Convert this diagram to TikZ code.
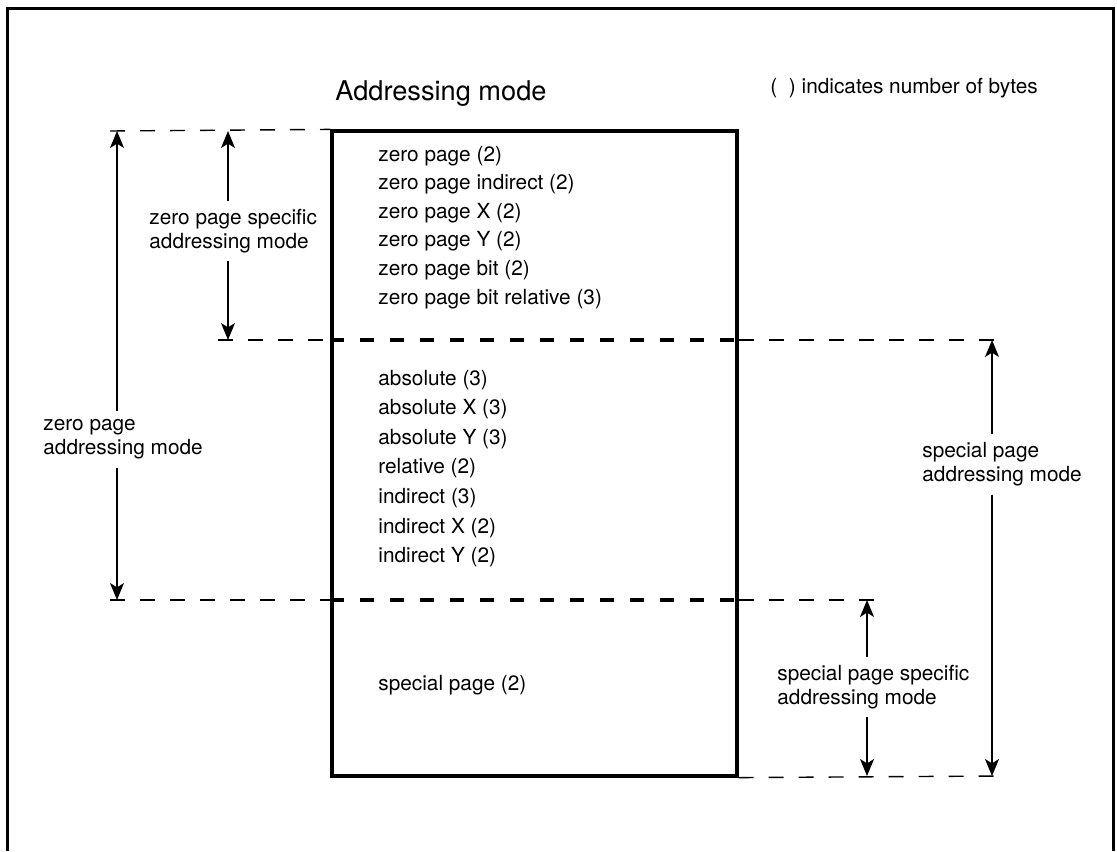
\documentclass[tikz,border=0pt]{standalone}
\usepackage{fontspec}
\setmainfont{TeX Gyre Heros}
\usetikzlibrary{arrows.meta}
\begin{document}
\begin{tikzpicture}[x=0.5pt,y=-0.5pt,
  txt/.style={font=\fontsize{10.4}{12}\selectfont, inner sep=0pt, anchor=base west},
  ttl/.style={font=\fontsize{13.6}{16}\selectfont, inner sep=0pt, anchor=base west},
  lbl/.style={font=\fontsize{10.4}{12}\selectfont, align=left, inner xsep=0pt, inner ysep=4pt, anchor=west},
  arr/.style={line width=0.75pt, -{Stealth[length=8.5pt,width=7pt,inset=2.2pt]}},
  thindash/.style={line width=0.7pt, dash pattern=on 7.5pt off 7.5pt},
  thickdash/.style={line width=1.7pt, dash pattern=on 7pt off 8pt},
  frame/.style={line width=1.5pt},
  mainbox/.style={draw, line width=1.6pt, minimum width=202.5pt, minimum height=322.5pt, inner sep=0pt}
]
\useasboundingbox (0,0) rectangle (1117,851);
% outer frame
\draw[frame] (7,851) -- (7,8) -- (1113,8) -- (1113,851);

% titles
\node[ttl] (title) at (335,100) {Addressing mode};
\node[txt] (note) at (770,93) {(\hspace{0.56em}) indicates number of bytes};

% main box
\node[mainbox] (box) at (534.5,453.5) {};

% coordinates for dividers
\coordinate (L1) at (110,131);
\coordinate (L2) at (218,340);
\coordinate (L3) at (110,600);
\coordinate (R2) at (1000,340);
\coordinate (R3) at (878,600);
\coordinate (R4) at (1000,776);

% dividers inside box
\draw[thickdash] (box.west |- L2) -- (box.east |- L2);
\draw[thickdash] (box.west |- L3) -- (box.east |- L3);

% dashed extension lines
\draw[thindash] (L1) -- (box.north west);
\draw[thindash] (L2) -- (box.west |- L2);
\draw[thindash] (L3) -- (box.west |- L3);
\draw[thindash] (box.east |- R2) -- (R2);
\draw[thindash] (box.east |- R3) -- (R3);
\draw[thindash] (box.south east) -- (R4);

% box contents
\node[txt] (z1) at (378,161) {zero page (2)};
\node[txt] (z2) at (378,189.6) {zero page indirect (2)};
\node[txt] (z3) at (378,218.2) {zero page X (2)};
\node[txt] (z4) at (378,246.8) {zero page Y (2)};
\node[txt] (z5) at (378,275.4) {zero page bit (2)};
\node[txt] (z6) at (378,304) {zero page bit relative (3)};

\node[txt] (a1) at (378,385) {absolute (3)};
\node[txt] (a2) at (378,414.6) {absolute X (3)};
\node[txt] (a3) at (378,444.2) {absolute Y (3)};
\node[txt] (a4) at (378,473.8) {relative (2)};
\node[txt] (a5) at (378,503.4) {indirect (3)};
\node[txt] (a6) at (378,533) {indirect X (2)};
\node[txt] (a7) at (378,562.6) {indirect Y (2)};

\node[txt] (s1) at (378,690) {special page (2)};

% labels
\node[lbl] (zps) at (149,231) {zero page specific\\addressing mode};
\node[lbl] (zp)  at (43,439.5) {zero page\\addressing mode};
\node[lbl] (sp)  at (922,464.5) {special page\\addressing mode};
\node[lbl] (sps) at (777,687) {special page specific\\addressing mode};

% arrow end points
\coordinate (zpsT) at (228,131);
\coordinate (zpsB) at (228,340);
\coordinate (zpT) at (117,131);
\coordinate (zpB) at (117,600);
\coordinate (spT) at (992,340);
\coordinate (spB) at (992,776);
\coordinate (spsT) at (867,600);
\coordinate (spsB) at (867,776);

% arrows
\draw[arr] (zps.north -| zpsT) -- (zpsT);
\draw[arr] (zps.south -| zpsB) -- (zpsB);
\draw[arr] (zp.north -| zpT) -- (zpT);
\draw[arr] (zp.south -| zpB) -- (zpB);
\draw[arr] (sp.north -| spT) -- (spT);
\draw[arr] (sp.south -| spB) -- (spB);
\draw[arr] (sps.north -| spsT) -- (spsT);
\draw[arr] (sps.south -| spsB) -- (spsB);
\end{tikzpicture}
\end{document}
